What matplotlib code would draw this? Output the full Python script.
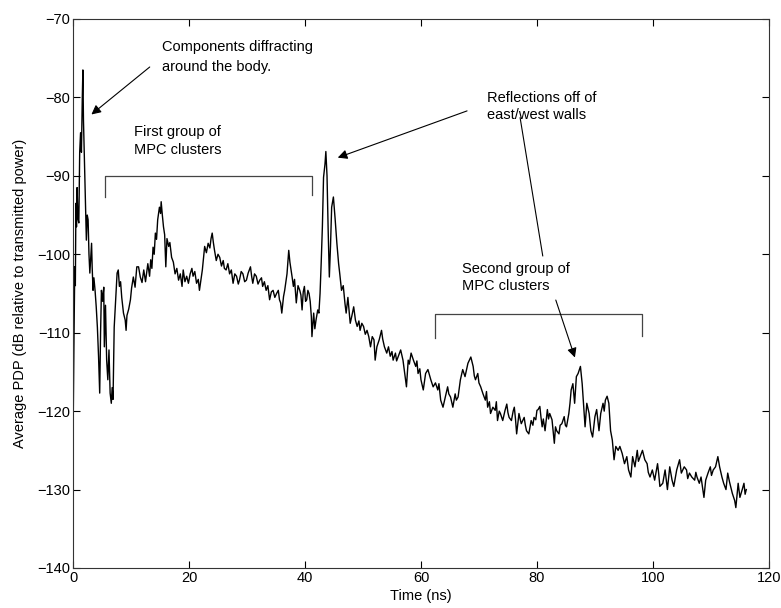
import matplotlib
matplotlib.use('Agg')
import matplotlib.pyplot as plt

# Datos: tiempo (ns) y PDP promedio (dB)
time_ns = [
    0.0, 0.15, 0.3, 0.4, 0.5, 0.6, 0.7, 0.85, 1.0, 1.15, 1.3, 1.45, 1.6, 1.7, 1.8, 1.95,
    2.1, 2.3, 2.45, 2.6, 2.75, 2.9, 3.2, 3.3, 3.45, 3.6, 3.8, 4.0, 4.2, 4.4, 4.6, 4.75,
    4.9, 5.1, 5.3, 5.4, 5.6, 5.8, 6.0, 6.2, 6.4, 6.6, 6.75, 6.9, 7.1, 7.4, 7.6, 7.8,
    8.0, 8.2, 8.4, 8.7, 9.0, 9.15, 9.3, 9.6, 9.9, 10.1, 10.4, 10.7, 11.0, 11.3, 11.6, 11.9,
    12.2, 12.5, 12.9, 13.2, 13.4, 13.6, 13.8, 14.0, 14.2, 14.4, 14.6, 14.9, 15.1, 15.2, 15.4, 15.6,
    15.8, 16.0, 16.2, 16.5, 16.7, 17.0, 17.3, 17.6, 17.9, 18.2, 18.5, 18.8, 19.0, 19.3, 19.6, 19.9,
    20.2, 20.5, 20.7, 21.0, 21.3, 21.6, 21.8, 22.1, 22.3, 22.5, 22.7, 23.0, 23.3, 23.6, 23.8, 24.0,
    24.2, 24.4, 24.7, 25.0, 25.3, 25.6, 25.9, 26.1, 26.4, 26.7, 27.0, 27.3, 27.6, 27.9, 28.2, 28.5,
    28.7, 29.0, 29.3, 29.6, 29.9, 30.2, 30.6, 30.8, 31.0, 31.3, 31.6, 31.9, 32.2, 32.5, 32.7, 33.0,
    33.3, 33.6, 33.9, 34.2, 34.5, 34.8, 35.1, 35.4, 35.6, 35.8, 36.0, 36.3, 36.5, 36.7, 36.9, 37.2,
    37.4, 37.6, 37.8, 38.0, 38.2, 38.5, 38.8, 39.1, 39.3, 39.5, 39.7, 39.9, 40.1, 40.3, 40.5, 40.7,
    40.9, 41.1, 41.2, 41.35, 41.5, 41.7, 41.9, 42.2, 42.4, 42.6, 42.8, 43.0, 43.2, 43.45, 43.6, 43.8,
    44.0, 44.2, 44.4, 44.6, 44.9, 45.2, 45.5, 45.8, 46.0, 46.3, 46.6, 46.9, 47.1, 47.4, 47.8, 48.1,
    48.4, 48.7, 49.0, 49.3, 49.5, 49.8, 50.1, 50.4, 50.7, 51.0, 51.3, 51.6, 51.9, 52.1, 52.4, 52.8,
    53.2, 53.4, 53.7, 54.1, 54.4, 54.7, 55.0, 55.2, 55.6, 55.8, 56.1, 56.5, 56.9, 57.2, 57.5, 57.8,
    58.0, 58.3, 58.7, 59.1, 59.3, 59.5, 59.8, 60.0, 60.4, 60.8, 61.2, 61.5, 61.7, 62.1, 62.5, 62.9,
    63.1, 63.4, 63.8, 64.2, 64.6, 64.8, 65.1, 65.5, 65.9, 66.1, 66.4, 66.8, 67.2, 67.6, 68.1, 68.6,
    69.0, 69.2, 69.4, 69.8, 70.0, 70.3, 70.7, 71.1, 71.3, 71.5, 71.8, 72.0, 72.4, 72.8, 73.0, 73.2,
    73.5, 73.7, 74.1, 74.5, 74.8, 75.0, 75.2, 75.6, 75.9, 76.1, 76.3, 76.5, 76.9, 77.1, 77.3, 77.8,
    78.0, 78.2, 78.6, 79.0, 79.3, 79.5, 79.8, 80.0, 80.2, 80.5, 80.7, 80.9, 81.1, 81.4, 81.8, 82.0,
    82.2, 82.6, 83.0, 83.2, 83.4, 83.8, 84.0, 84.3, 84.7, 84.9, 85.1, 85.5, 85.7, 85.9, 86.2, 86.5,
    86.8, 87.1, 87.5, 87.8, 88.1, 88.3, 88.6, 89.0, 89.3, 89.6, 90.0, 90.3, 90.7, 91.0, 91.4, 91.6,
    91.8, 92.1, 92.4, 92.7, 93.0, 93.3, 93.6, 94.0, 94.3, 94.7, 95.1, 95.5, 95.8, 96.2, 96.5, 96.9,
    97.3, 97.5, 97.8, 98.2, 98.6, 99.0, 99.2, 99.5, 99.9, 100.3, 100.8, 101.0, 101.2, 101.7, 102.1, 102.5,
    102.9, 103.3, 103.6, 104.1, 104.6, 104.9, 105.4, 105.8, 106.0, 106.3, 106.7, 107.2, 107.4, 107.6, 108.0, 108.3,
    108.8, 109.1, 109.5, 109.9, 110.1, 110.4, 110.8, 111.2, 111.5, 111.9, 112.2, 112.6, 112.9, 113.2, 113.4, 113.7,
    114.1, 114.3, 114.7, 115.0, 115.4, 115.7, 115.9, 116.1,
]
pdp_db = [
    -124.0, -112.0, -101.6, -104.0, -93.5, -96.5, -91.5, -95.5, -96.0, -87.0, -84.5, -87.0, -80.0, -76.5, -82.9, -87.5,
    -92.2, -98.2, -95.0, -95.6, -100.0, -102.4, -98.6, -101.6, -104.6, -103.0, -104.6, -106.7, -109.3, -113.0, -117.7, -110.0,
    -104.6, -106.0, -104.2, -111.8, -106.5, -113.5, -116.0, -112.2, -117.7, -119.0, -117.0, -118.5, -109.3, -105.0, -102.4, -102.0,
    -104.1, -103.5, -105.5, -107.5, -108.4, -109.7, -107.8, -107.0, -105.8, -104.3, -102.9, -104.2, -101.6, -101.6, -102.9, -103.6,
    -102.0, -103.5, -101.2, -102.8, -100.7, -101.8, -99.1, -100.0, -97.3, -98.1, -95.6, -94.0, -94.8, -93.3, -95.0, -96.5,
    -97.5, -101.6, -98.0, -99.0, -98.5, -100.4, -101.0, -102.5, -101.8, -103.3, -102.5, -104.1, -102.0, -103.5, -102.8, -103.7,
    -102.5, -101.8, -102.8, -102.2, -103.7, -103.2, -104.6, -103.0, -102.0, -100.5, -99.0, -99.8, -98.6, -99.2, -98.0, -97.3,
    -98.5, -99.5, -100.8, -100.0, -100.4, -101.5, -100.8, -101.8, -102.0, -101.2, -102.5, -102.0, -103.7, -102.5, -102.8, -103.8,
    -103.3, -102.2, -102.5, -103.5, -103.3, -102.4, -101.6, -102.8, -103.7, -102.5, -102.8, -103.8, -103.3, -103.0, -104.1, -103.5,
    -104.6, -104.0, -105.8, -104.8, -104.6, -105.5, -105.0, -104.6, -105.8, -106.2, -107.5, -105.4, -104.6, -103.5, -102.5, -99.5,
    -101.0, -102.0, -103.0, -104.1, -103.2, -106.2, -104.0, -104.6, -105.2, -107.1, -104.8, -104.1, -106.0, -105.8, -104.6, -105.0,
    -106.0, -108.0, -110.5, -109.0, -107.5, -109.5, -108.4, -107.1, -107.5, -105.0, -101.0, -96.5, -90.2, -88.5, -86.9, -90.0,
    -97.0, -102.9, -99.0, -94.0, -92.7, -95.5, -98.6, -101.2, -102.5, -104.6, -104.0, -106.3, -107.5, -105.5, -108.8, -107.8,
    -106.7, -108.4, -109.2, -108.5, -109.7, -108.8, -109.2, -110.2, -109.7, -110.5, -111.8, -110.5, -110.9, -113.5, -111.8, -110.9,
    -109.7, -110.8, -111.8, -112.6, -111.8, -113.0, -112.4, -113.5, -112.6, -113.6, -113.0, -112.2, -113.5, -115.2, -116.9, -113.5,
    -114.0, -112.6, -113.5, -114.3, -113.6, -115.2, -114.6, -116.0, -117.3, -115.2, -114.7, -115.5, -116.0, -116.9, -116.4, -117.3,
    -116.5, -118.6, -119.5, -118.2, -116.9, -117.8, -118.2, -119.5, -117.8, -118.6, -118.2, -116.0, -114.7, -115.6, -113.9, -113.1,
    -114.3, -115.5, -116.0, -115.2, -116.4, -116.9, -117.8, -118.6, -117.5, -119.5, -118.8, -120.3, -119.5, -119.9, -118.8, -121.2,
    -120.0, -120.3, -121.2, -119.9, -119.1, -120.2, -120.8, -121.2, -120.0, -119.5, -121.0, -122.9, -120.3, -121.0, -121.6, -120.8,
    -121.8, -122.5, -122.9, -121.2, -121.8, -120.8, -121.1, -119.9, -119.8, -119.4, -120.8, -122.0, -121.0, -122.5, -119.8, -121.0,
    -120.3, -121.1, -124.1, -122.0, -122.5, -122.9, -121.8, -121.6, -120.7, -121.8, -122.0, -120.3, -119.0, -117.3, -116.5, -119.0,
    -115.6, -115.2, -114.3, -116.5, -119.8, -122.0, -119.0, -120.3, -122.5, -123.3, -120.7, -119.8, -122.5, -120.3, -119.0, -120.0,
    -118.6, -118.1, -119.0, -122.5, -123.7, -126.2, -124.5, -125.0, -124.5, -125.4, -126.7, -125.8, -127.5, -128.4, -125.8, -127.1,
    -125.0, -126.4, -125.8, -125.0, -126.2, -126.7, -127.8, -128.4, -127.5, -128.8, -126.7, -128.0, -129.6, -129.2, -127.5, -130.0,
    -127.1, -128.8, -129.6, -127.5, -126.2, -127.9, -127.1, -127.5, -128.6, -127.9, -128.4, -128.8, -127.8, -128.4, -129.2, -128.4,
    -131.0, -128.8, -127.9, -127.1, -128.2, -127.5, -127.1, -125.8, -127.1, -128.4, -129.2, -130.0, -127.9, -129.0, -129.6, -130.5,
    -131.4, -132.3, -129.2, -131.0, -130.0, -129.2, -130.6, -130.0,
]

x_ticks = [0, 20, 40, 60, 80, 100, 120]
y_ticks = [-140, -130, -120, -110, -100, -90, -80, -70]

# -----------------------------------------------------------------------------------------
FONT = ['Liberation Sans', 'DejaVu Sans']
FS = 10.5
plt.rcParams['font.family'] = FONT
plt.rcParams['font.size'] = FS
plt.rcParams['axes.unicode_minus'] = True

fig = plt.figure(figsize=(7.81, 6.08), dpi=100)
ax = fig.add_axes([0.0935, 0.0658, 0.891, 0.903])
ax.plot(time_ns, pdp_db, color='black', linewidth=1.0)

ax.set_xlim(0, 120); ax.set_ylim(-140, -70)
ax.set_xticks(x_ticks); ax.set_yticks(y_ticks)
ax.tick_params(direction='in', top=True, right=True, length=5, width=0.8, labelsize=FS, pad=2)
for s in ax.spines.values():
    s.set_linewidth(0.8); s.set_color('#333333')
ax.set_xlabel('Time (ns)', fontsize=FS, labelpad=3)
ax.set_ylabel('Average PDP (dB relative to transmitted power)', fontsize=FS, labelpad=7)

# -----------------------------------------------------------------------------------------
# Anotaciones
ARROW = dict(arrowstyle='-|>', color='black', linewidth=0.8, mutation_scale=14)
ax.text(15.3, -73.6, 'Components diffracting', va='center', ha='left')
ax.text(15.3, -76.1, 'around the body.', va='center', ha='left')
ax.annotate('', xy=(2.8, -82.4), xytext=(13.6, -75.9), arrowprops=ARROW)

ax.text(10.5, -84.4, 'First group of', va='center', ha='left')
ax.text(10.5, -86.7, 'MPC clusters', va='center', ha='left')
ax.plot([5.5, 5.5, 41.2, 41.2], [-92.7, -90.0, -90.0, -92.4], color='#444444', linewidth=0.9)

ax.text(71.4, -80.1, 'Reflections off of', va='center', ha='left')
ax.text(71.4, -82.2, 'east/west walls', va='center', ha='left')
ax.annotate('', xy=(45.2, -87.8), xytext=(68.4, -81.6), arrowprops=ARROW)
ax.plot([77.1, 81.0], [-82.6, -100.2], color='black', linewidth=0.8)

ax.text(67.0, -101.9, 'Second group of', va='center', ha='left')
ax.text(67.0, -104.1, 'MPC clusters', va='center', ha='left')
ax.plot([62.4, 62.4, 98.1, 98.1], [-110.7, -107.6, -107.6, -110.4], color='#444444', linewidth=0.9)
ax.annotate('', xy=(86.7, -113.5), xytext=(83.1, -105.5), arrowprops=ARROW)

fig.savefig('out.png', dpi=100)
